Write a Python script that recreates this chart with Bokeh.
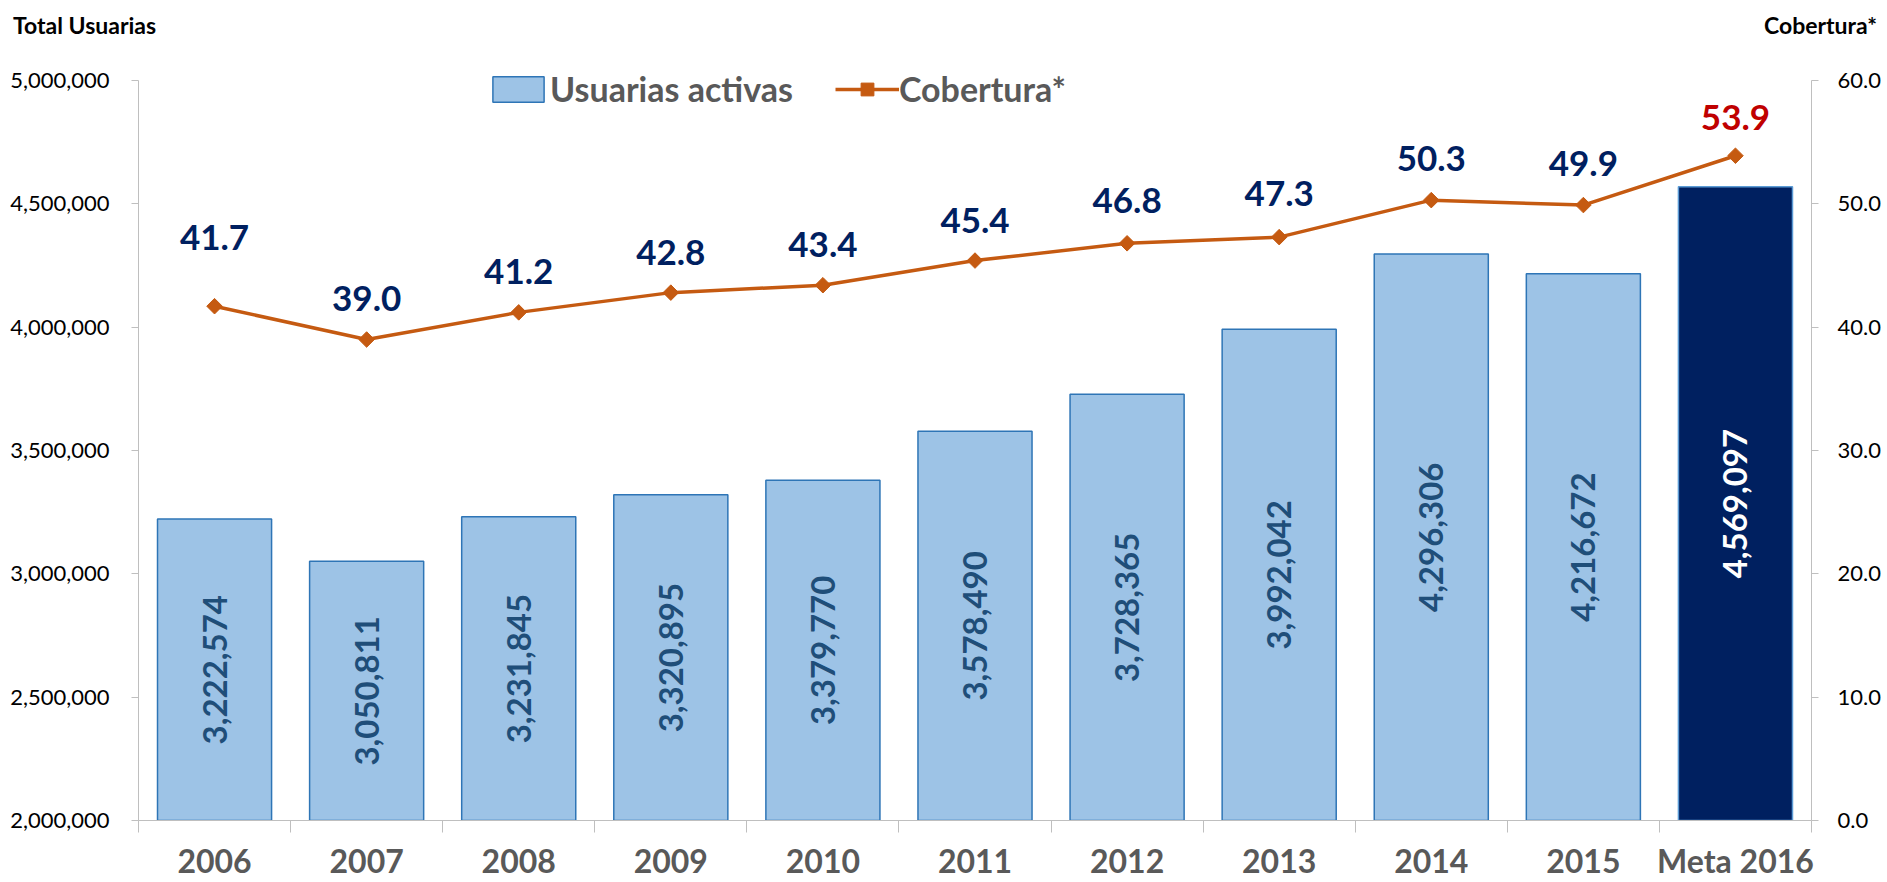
import math
from bokeh.plotting import figure
from bokeh.layouts import column
from bokeh.models import (ColumnDataSource, Range1d, LinearAxis, FixedTicker, Div,
                          NumeralTickFormatter, Legend, LegendItem)
from bokeh.embed import file_html
from bokeh.resources import INLINE
from bokeh.core.properties import value

# ---------------- data ----------------
categories = ["2006", "2007", "2008", "2009", "2010", "2011", "2012", "2013",
              "2014", "2015", "Meta 2016"]
usuarias = [3222574, 3050811, 3231845, 3320895, 3379770, 3578490, 3728365,
            3992042, 4296306, 4216672, 4569097]
cobertura = [41.7, 39.0, 41.2, 42.8, 43.4, 45.4, 46.8, 47.3, 50.3, 49.9, 53.9]
left_ticks = [2000000, 2500000, 3000000, 3500000, 4000000, 4500000, 5000000]
right_ticks = [0, 10, 20, 30, 40, 50, 60]
left_title = "Total Usuarias"
right_title = "Cobertura*"
series_bar = "Usuarias activas"
series_line = "Cobertura*"

# ---------------- styling ----------------
FONT = "Lato"
AXIS_GRAY = "#BFBFBF"
HEADER_H = 50          # px of the title strip above the plot
TOP_PAD = 30           # px between the frame top and the 5,000,000 tick
FRAME_H = 740          # px between the 2,000,000 and 5,000,000 ticks
# vertical screen offset (px) of each coverage label above its marker
cob_label_offset = [-69, -41, -41, -40, -41, -40, -43, -44, -42, -42, -38]

Y_MIN, Y_MAX = left_ticks[0], left_ticks[-1]
C_MIN, C_MAX = right_ticks[0], right_ticks[-1]
Y_TOP = Y_MAX + (Y_MAX - Y_MIN) * TOP_PAD / FRAME_H
C_TOP = C_MAX + (C_MAX - C_MIN) * TOP_PAD / FRAME_H
n = len(categories)
is_meta = [c.startswith("Meta") for c in categories]
centres = [i + 0.5 for i in range(n)]

src = ColumnDataSource(dict(
    cat=categories,
    xc=centres,
    usu=usuarias,
    cob=cobertura,
    base=[Y_MIN] * n,
    mid=[(Y_MIN + v) / 2 for v in usuarias],
    usu_txt=[f"{v:,}" for v in usuarias],
    cob_txt=[f"{v:.1f}" for v in cobertura],
    cob_dy=cob_label_offset,
    fill=["#002060" if m else "#9DC3E6" for m in is_meta],
    edge=["#5B9BD5" if m else "#2E75B6" for m in is_meta],
    usu_col=["#FFFFFF" if m else "#1F4E79" for m in is_meta],
    cob_col=["#C00000" if m else "#002060" for m in is_meta],
))

p = figure(x_range=Range1d(0, n), y_range=Range1d(Y_MIN, Y_TOP),
           width=1887, height=882 - HEADER_H,
           min_border_left=138, min_border_right=76,
           min_border_top=0, min_border_bottom=62,
           output_backend="svg", toolbar_location=None,
           x_axis_location="below", y_axis_location="left")
p.extra_y_ranges = {"cob": Range1d(C_MIN, C_TOP)}
p.xgrid.visible = False
p.ygrid.visible = False
p.outline_line_color = None
p.background_fill_color = "white"
p.border_fill_color = "white"

# left axis
ya = p.yaxis[0]
ya.ticker = FixedTicker(ticks=left_ticks)
ya.bounds = (Y_MIN, Y_MAX)
ya.formatter = NumeralTickFormatter(format="0,0")
ya.major_label_text_font = FONT
ya.major_label_text_font_size = "22px"
ya.major_label_text_color = "#000000"
ya.major_label_standoff = 22
ya.major_tick_out = 7
ya.major_tick_in = 0
ya.minor_tick_line_color = None
ya.axis_line_color = AXIS_GRAY
ya.major_tick_line_color = AXIS_GRAY

# right axis
ra = LinearAxis(y_range_name="cob", ticker=FixedTicker(ticks=right_ticks),
                formatter=NumeralTickFormatter(format="0.0"), bounds=(C_MIN, C_MAX))
ra.major_label_text_font = FONT
ra.major_label_text_font_size = "22px"
ra.major_label_text_color = "#000000"
ra.major_label_standoff = 19
ra.major_tick_out = 7
ra.major_tick_in = 0
ra.minor_tick_line_color = None
ra.axis_line_color = AXIS_GRAY
ra.major_tick_line_color = AXIS_GRAY
p.add_layout(ra, "right")

# bottom axis: labels at category centres, tick marks at the boundaries
ba = p.xaxis[0]
ba.ticker = FixedTicker(ticks=centres, minor_ticks=list(range(n + 1)))
ba.major_label_overrides = {x: c for x, c in zip(centres, categories)}
ba.major_label_text_font = FONT
ba.major_label_text_font_style = "bold"
ba.major_label_text_font_size = "32px"
ba.major_label_text_color = "#595959"
ba.major_label_standoff = 8
ba.major_tick_out = 0
ba.major_tick_in = 0
ba.major_tick_line_color = None
ba.minor_tick_out = 12
ba.minor_tick_in = 0
ba.minor_tick_line_color = AXIS_GRAY
ba.axis_line_color = AXIS_GRAY

# bars
bars = p.vbar(x="xc", top="usu", bottom="base", width=0.75,
              fill_color="fill", line_color="edge", line_width=1.5, source=src)

# labels inside bars
p.text(x="xc", y="mid", text="usu_txt", angle=math.pi / 2,
       text_align="center", text_baseline="middle",
       text_font=value(FONT), text_font_style="bold", text_font_size="33px",
       text_color="usu_col", source=src)

# line + markers
line = p.line(x="xc", y="cob", y_range_name="cob", line_color="#C55A11",
              line_width=3.5, source=src)
marks = p.scatter(x="xc", y="cob", y_range_name="cob", marker="square",
                  angle=math.pi / 4, size=11, fill_color="#C55A11",
                  line_color="#C55A11", source=src)

# line labels
p.text(x="xc", y="cob", y_range_name="cob", text="cob_txt",
       y_offset="cob_dy", text_align="center", text_baseline="alphabetic",
       text_font=value(FONT), text_font_style="bold", text_font_size="35px",
       text_color="cob_col", source=src)

# legend
legend = Legend(items=[LegendItem(label=series_bar, renderers=[bars], index=0),
                       LegendItem(label=series_line, renderers=[line, marks])],
                location=(348, 711), orientation="horizontal",
                border_line_color=None, background_fill_alpha=0,
                padding=0, margin=0, spacing=42,
                glyph_width=64, glyph_height=32, label_standoff=0,
                label_text_font=FONT, label_text_font_style="bold",
                label_text_font_size="34px", label_text_color="#595959")
p.add_layout(legend)

# axis titles in a strip above the plot
header = Div(
    text=(f'<div style="position:relative;width:1887px;height:{HEADER_H}px;'
          f'font-family:{FONT};font-weight:bold;font-size:23px;color:#000000;'
          f'line-height:28px;">'
          f'<span style="position:absolute;left:13px;top:11px;">{left_title}</span>'
          f'<span style="position:absolute;right:10px;top:11px;">{right_title}</span>'
          f'</div>'),
    width=1887, height=HEADER_H, margin=0)

layout = column(header, p, spacing=0)
open("out.html", "w").write(file_html(layout, INLINE))
